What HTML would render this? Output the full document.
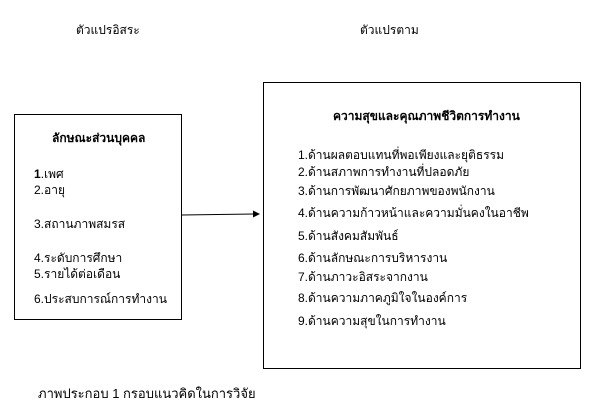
<!DOCTYPE html>
<html><head><meta charset="utf-8"><style>
body{margin:0;width:607px;height:418px;background:#fff;position:relative;overflow:hidden;font-family:"Liberation Sans","DejaVu Sans",sans-serif;font-size:12px;color:#000}
.t{position:absolute;white-space:nowrap;line-height:14px}
.b{position:absolute;border:1px solid #000;box-sizing:border-box}
</style></head><body>
<div class="t" style="left:76px;top:23px">ตัวแปรอิสระ</div>
<div class="t" style="left:360px;top:23px">ตัวแปรตาม</div>
<div class="b" style="left:14px;top:114px;width:168px;height:206px"></div>
<div class="b" style="left:263px;top:82px;width:318px;height:287px"></div>
<svg style="position:absolute;left:0;top:0" width="607" height="418">
<line x1="182" y1="215" x2="254" y2="214" stroke="#000" stroke-width="1"/>
<polygon points="260,214 253,210.5 253,217.5" fill="#000"/>
</svg>
<div class="t" style="left:52px;top:131px;font-weight:bold">ลักษณะส่วนบุคคล</div>
<div class="t" style="left:34px;top:167px"><b>1</b>.เพศ</div>
<div class="t" style="left:34px;top:183px">2.อายุ</div>
<div class="t" style="left:34px;top:217px">3.สถานภาพสมรส</div>
<div class="t" style="left:34px;top:251px">4.ระดับการศึกษา</div>
<div class="t" style="left:34px;top:267px">5.รายได้ต่อเดือน</div>
<div class="t" style="left:34px;top:292px">6.ประสบการณ์การทำงาน</div>
<div class="t" style="left:333px;top:109px;font-weight:bold">ความสุขและคุณภาพชีวิตการทำงาน</div>
<div class="t" style="left:298px;top:148px">1.ด้านผลตอบแทนที่พอเพียงและยุติธรรม</div>
<div class="t" style="left:298px;top:165px">2.ด้านสภาพการทำงานที่ปลอดภัย</div>
<div class="t" style="left:298px;top:184px">3.ด้านการพัฒนาศักยภาพของพนักงาน</div>
<div class="t" style="left:298px;top:206px">4.ด้านความก้าวหน้าและความมั่นคงในอาชีพ</div>
<div class="t" style="left:298px;top:229px">5.ด้านสังคมสัมพันธ์</div>
<div class="t" style="left:298px;top:251px">6.ด้านลักษณะการบริหารงาน</div>
<div class="t" style="left:298px;top:270px">7.ด้านภาวะอิสระจากงาน</div>
<div class="t" style="left:298px;top:291px">8.ด้านความภาคภูมิใจในองค์การ</div>
<div class="t" style="left:298px;top:314px">9.ด้านความสุขในการทำงาน</div>
<div class="t" style="left:38px;top:387px;font-size:13px">ภาพประกอบ 1 กรอบแนวคิดในการวิจัย</div>
</body></html>
